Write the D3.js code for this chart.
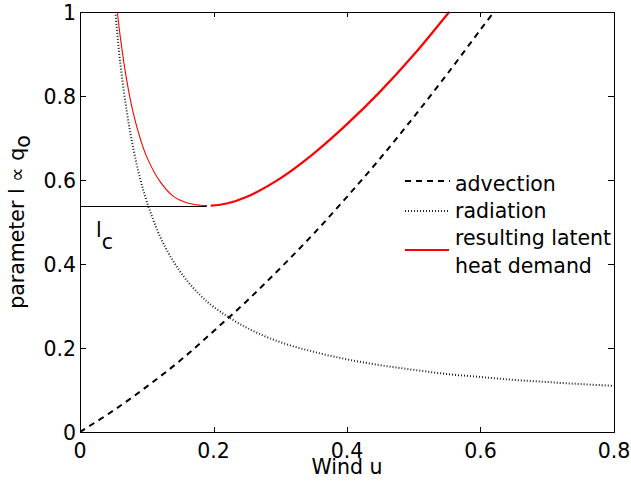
<!DOCTYPE html>
<html>
<head>
<meta charset="utf-8">
<script src="https://cdn.jsdelivr.net/npm/d3@7"></script>
<style>
body{margin:0;background:#fff}
text{font-family:"DejaVu Sans",sans-serif;font-size:20.5px;fill:#000}
</style>
</head>
<body>
<div class="bigvis"></div>
<script>
var margin = {top: 12, right: 17, bottom: 55, left: 80}
var width = 631
var height = 487

var xTicks = [0, 0.2, 0.4, 0.6, 0.8]
var yTicks = [0, 0.2, 0.4, 0.6, 0.8, 1]
var xTickLabels = ["0", "0.2", "0.4", "0.6", "0.8"]
var yTickLabels = ["0", "0.2", "0.4", "0.6", "0.8", "1"]

// advection (dashed)
var advU   = [0, 0.05, 0.1, 0.15, 0.2, 0.25, 0.3, 0.35, 0.4, 0.45, 0.5, 0.55, 0.6, 0.62]
var advVal = [0, 0.051, 0.108, 0.170, 0.240, 0.312, 0.390, 0.472, 0.560, 0.652, 0.750, 0.852, 0.958, 1.0]

// radiation (dotted)
var radU   = [0.053, 0.06, 0.07, 0.08, 0.09, 0.1, 0.12, 0.14, 0.16, 0.18, 0.2, 0.25, 0.3, 0.35, 0.4, 0.45, 0.5, 0.55, 0.6, 0.65, 0.7, 0.75, 0.8]
var radVal = [1.0, 0.883, 0.764, 0.674, 0.604, 0.549, 0.465, 0.406, 0.361, 0.326, 0.298, 0.248, 0.214, 0.191, 0.173, 0.159, 0.148, 0.138, 0.131, 0.124, 0.119, 0.114, 0.110]

// resulting latent heat demand, thin branch and thick branch
var lowU   = [0.056, 0.06, 0.07, 0.08, 0.09, 0.1, 0.12, 0.14, 0.16, 0.18, 0.19]
var lowVal = [1.0, 0.945, 0.837, 0.758, 0.700, 0.655, 0.596, 0.561, 0.546, 0.540, 0.539]
var highU   = [0.196, 0.22, 0.25, 0.3, 0.35, 0.4, 0.45, 0.5, 0.553]
var highVal = [0.539, 0.544, 0.560, 0.604, 0.663, 0.733, 0.811, 0.898, 1.0]

var lcValue = 0.539
var lcEnd = 0.19

var legendNames = ["advection", "radiation", "resulting latent", "heat demand"]

var svg = d3.select(".bigvis").append("svg")
    .attr("width", width)
    .attr("height", height)

var x = d3.scaleLinear().domain([0, 0.8]).range([margin.left, width - margin.right])
var y = d3.scaleLinear().domain([0, 1]).range([height - margin.bottom, margin.top])

function pairs(us, vs){
  return us.map(function(u, i){ return [u, vs[i]] })
}

var line = d3.line()
    .x(function(d){ return x(d[0]) })
    .y(function(d){ return y(d[1]) })
    .curve(d3.curveCatmullRom.alpha(0.5))

svg.append("clipPath").attr("id", "plotclip")
  .append("rect")
    .attr("x", x(0)).attr("y", y(1) - 1)
    .attr("width", x(0.8) - x(0)).attr("height", y(0) - y(1) + 1)

var plot = svg.append("g").attr("clip-path", "url(#plotclip)")

// critical level line
plot.append("line")
    .attr("x1", x(0)).attr("x2", x(lcEnd))
    .attr("y1", Math.round(y(lcValue)) + 0.5).attr("y2", Math.round(y(lcValue)) + 0.5)
    .attr("stroke", "#000").attr("stroke-width", 1)

plot.append("path")
    .datum(pairs(radU, radVal))
    .attr("d", line)
    .attr("fill", "none")
    .attr("stroke", "#222")
    .attr("stroke-width", 2)
    .attr("stroke-dasharray", "1,2")

plot.append("path")
    .datum(pairs(advU, advVal))
    .attr("d", line)
    .attr("fill", "none")
    .attr("stroke", "#000")
    .attr("stroke-width", 2)
    .attr("stroke-dasharray", "6,5")

plot.append("path")
    .datum(pairs(lowU, lowVal))
    .attr("d", line)
    .attr("fill", "none")
    .attr("stroke", "#f00")
    .attr("stroke-width", 1.1)

plot.append("path")
    .datum(pairs(highU, highVal))
    .attr("d", line)
    .attr("fill", "none")
    .attr("stroke", "#f00")
    .attr("stroke-width", 2.2)

// box and ticks
var axes = svg.append("g").attr("shape-rendering", "crispEdges")

axes.append("rect")
    .attr("x", x(0) + 0.5).attr("y", y(1) + 0.5)
    .attr("width", x(0.8) - x(0)).attr("height", y(0) - y(1))
    .attr("fill", "none").attr("stroke", "#000").attr("stroke-width", 1)

xTicks.forEach(function(v){
  var px = Math.round(x(v)) + 0.5
  axes.append("line").attr("x1", px).attr("x2", px).attr("y1", y(0)).attr("y2", y(0) - 5).attr("stroke", "#000")
  axes.append("line").attr("x1", px).attr("x2", px).attr("y1", y(1)).attr("y2", y(1) + 5).attr("stroke", "#000")
})

yTicks.forEach(function(v){
  var py = Math.round(y(v)) + 0.5
  axes.append("line").attr("x1", x(0)).attr("x2", x(0) + 6).attr("y1", py).attr("y2", py).attr("stroke", "#000")
  axes.append("line").attr("x1", x(0.8)).attr("x2", x(0.8) - 6).attr("y1", py).attr("y2", py).attr("stroke", "#000")
})

svg.selectAll("text.xtick")
  .data(xTicks)
  .enter().append("text")
    .attr("class", "xtick")
    .attr("x", function(d){ return x(d) })
    .attr("y", y(0) + 26)
    .attr("text-anchor", "middle")
    .text(function(d, i){ return xTickLabels[i] })

svg.selectAll("text.ytick")
  .data(yTicks)
  .enter().append("text")
    .attr("class", "ytick")
    .attr("x", x(0) - 4)
    .attr("y", function(d){ return y(d) + 7.5 })
    .attr("text-anchor", "end")
    .text(function(d, i){ return yTickLabels[i] })

svg.append("text")
    .attr("x", (x(0) + x(0.8)) / 2)
    .attr("y", 474)
    .attr("text-anchor", "middle")
    .text("Wind u")

var ylab = svg.append("text")
    .attr("transform", "translate(24," + ((y(0) + y(1)) / 2) + ") rotate(-90)")
    .attr("text-anchor", "middle")
ylab.append("tspan").text("parameter l \u221D q")
ylab.append("tspan").attr("dy", 6).text("o")

var lc = svg.append("text")
    .attr("x", 96)
    .attr("y", 237)
lc.append("tspan").text("l")
lc.append("tspan").attr("dy", 12).text("c")

// legend
var lx1 = 405, lx2 = 450, tx = 455
var leg = svg.append("g")

leg.append("line").attr("x1", lx1).attr("x2", lx2).attr("y1", 181).attr("y2", 181)
    .attr("stroke", "#000").attr("stroke-width", 2).attr("stroke-dasharray", "6,5")
leg.append("line").attr("x1", lx1).attr("x2", lx2).attr("y1", 211).attr("y2", 211)
    .attr("stroke", "#222").attr("stroke-width", 2).attr("stroke-dasharray", "1,2")
leg.append("line").attr("x1", lx1).attr("x2", lx2 - 1).attr("y1", 250).attr("y2", 250)
    .attr("stroke", "#f00").attr("stroke-width", 2.2)

var legY = [191, 218, 245, 273]
legendNames.forEach(function(name, i){
  leg.append("text").attr("x", tx).attr("y", legY[i]).text(name)
})
</script>
</body>
</html>
